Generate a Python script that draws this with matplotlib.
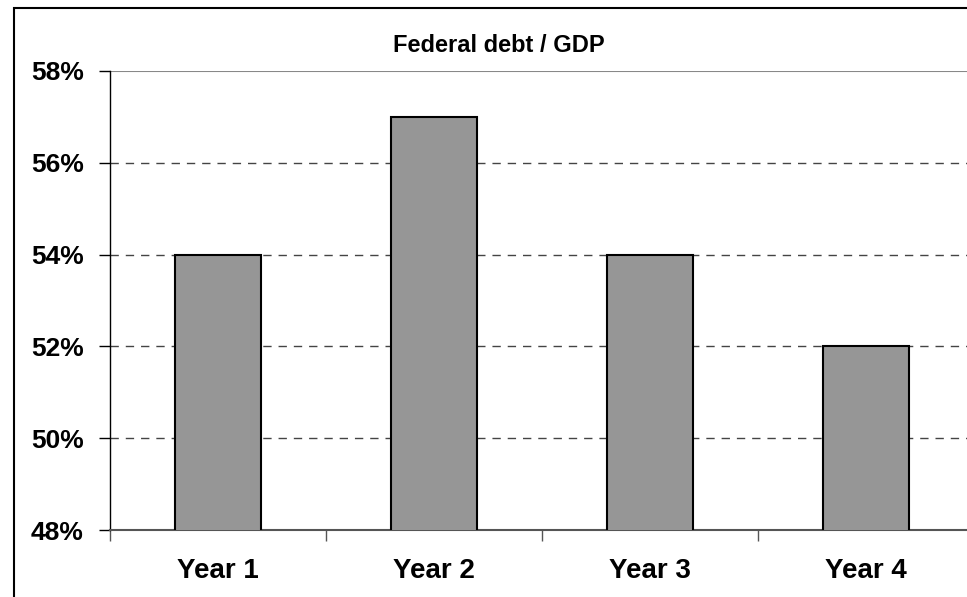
import matplotlib
matplotlib.use('Agg')
import matplotlib.pyplot as plt
from matplotlib.patches import Rectangle
from matplotlib.ticker import FixedLocator, FuncFormatter

# data
years = ['Year 1', 'Year 2', 'Year 3', 'Year 4']
debt_gdp = [54, 57, 54, 52]  # percent
y_ticks = [48, 50, 52, 54, 56, 58]

plt.rcParams['font.family'] = ['Liberation Sans', 'DejaVu Sans']

fig = plt.figure(figsize=(9.67, 5.97), dpi=100)
fig.patch.set_facecolor('white')

# outer chart border (cut off on right and bottom, like the original)
fig.add_artist(Rectangle((14 / 967, -0.05), 1.2, 1.05 - 8 / 597, transform=fig.transFigure,
                         fill=False, edgecolor='black', linewidth=1.5, clip_on=False))

ax = fig.add_axes([110 / 967, 67 / 597, 864 / 967, 459 / 597])

x = list(range(len(years)))
ax.bar(x, debt_gdp, width=0.4, color='#969696', edgecolor='black', linewidth=1.5, zorder=3)

ax.set_xlim(-0.5, len(years) - 0.5)
ax.set_ylim(48, 58)

# gridlines: dashed, top one solid gray
for v in y_ticks[1:-1]:
    ax.axhline(v, color='#444444', linestyle=(0, (6, 5)), linewidth=1, zorder=1)
ax.axhline(58, color='#888888', linewidth=1.5, zorder=1)

ax.set_yticks(y_ticks)
ax.yaxis.set_major_formatter(FuncFormatter(lambda v, p: f'{v:.0f}%'))
ax.tick_params(axis='y', direction='out', length=8, width=1, pad=11,
               labelsize=19)
for lab in ax.get_yticklabels():
    lab.set_fontweight('bold')

# category labels centered, ticks between categories
ax.set_xticks(x)
ax.set_xticklabels(years, fontsize=20, fontweight='bold')
ax.tick_params(axis='x', which='major', length=0, pad=20)
ax.xaxis.set_minor_locator(FixedLocator([i - 0.5 for i in range(len(years) + 1)]))
ax.tick_params(axis='x', which='minor', direction='out', length=8, width=1, color='#555555')

for side in ['top', 'right']:
    ax.spines[side].set_visible(False)
ax.spines['left'].set_color('black')
ax.spines['left'].set_linewidth(1)
ax.spines['bottom'].set_color('#555555')
ax.spines['bottom'].set_linewidth(1.5)

fig.text(499 / 967, 1 - 45 / 597, 'Federal debt / GDP', ha='center', va='center',
         fontsize=17, fontweight='bold')

fig.savefig('out.png', dpi=100)
